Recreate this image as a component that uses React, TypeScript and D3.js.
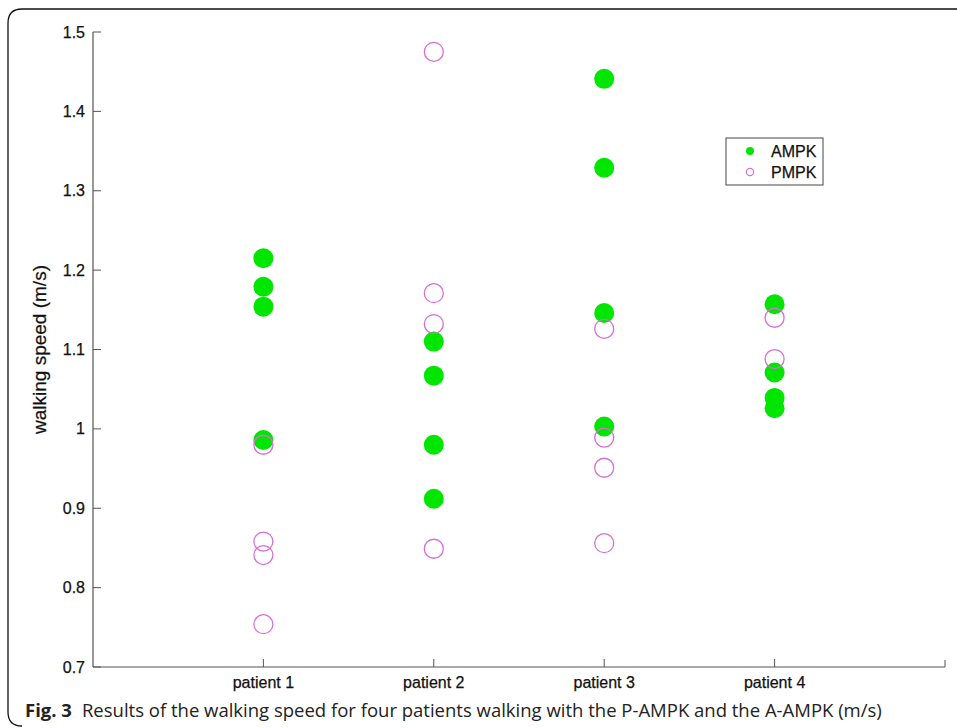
import React from "react";
import * as d3 from "d3";

const categories = ["patient 1", "patient 2", "patient 3", "patient 4"];
const ampk: number[][] = [
  [1.215, 1.179, 1.154, 0.986],
  [1.11, 1.067, 0.98, 0.912],
  [1.441, 1.329, 1.146, 1.003],
  [1.157, 1.071, 1.039, 1.026],
];
const pmpk: number[][] = [
  [0.98, 0.858, 0.841, 0.754],
  [1.475, 1.171, 1.132, 0.849],
  [1.126, 0.989, 0.951, 0.856],
  [1.14, 1.088],
];
const yTicks = [0.7, 0.8, 0.9, 1, 1.1, 1.2, 1.3, 1.4, 1.5];
const legendLabels = ["AMPK", "PMPK"];

const GREEN = "#00e600";
const PINK = "#d670d6";

export default function App() {
  const W = 957, H = 728;
  const left = 93, right = 945, top = 32, bottom = 667;
  const x = d3.scaleLinear().domain([0, 5]).range([left, right]);
  const y = d3.scaleLinear().domain([0.7, 1.5]).range([bottom, top]);
  const font = "'Liberation Sans', Arial, sans-serif";
  const fmt = (v: number) => (v === 1 ? "1" : d3.format(".1f")(v));
  const txt = { fontFamily: font, fill: "#111", stroke: "#111", strokeWidth: 0.25 };
  return (
    <svg width={W} height={H} style={{ position: "absolute", left: 0, top: 0, background: "#fff" }}>
      <rect x={0} y={0} width={W} height={H} fill="#fff" />
      {/* frame */}
      <path
        d={`M ${W + 5} 9 L 22 9 Q 8 9 8 23 L 8 712 Q 8 726 22 726`}
        fill="none"
        stroke="#111"
        strokeWidth={1.3}
      />
      {/* axes */}
      <line x1={left} y1={top} x2={left} y2={bottom} stroke="#555" strokeWidth={1.2} />
      <line x1={left} y1={bottom} x2={right} y2={bottom} stroke="#555" strokeWidth={1.2} />
      <line x1={right} y1={bottom} x2={right} y2={bottom - 7} stroke="#555" strokeWidth={1} />
      {yTicks.map((t) => (
        <g key={t}>
          <line x1={left} x2={left + 8} y1={y(t)} y2={y(t)} stroke="#555" strokeWidth={1} />
          <text x={left - 8} y={y(t)} dy="0.35em" textAnchor="end" fontSize={16} {...txt}>
            {fmt(t)}
          </text>
        </g>
      ))}
      {categories.map((c, i) => (
        <g key={c}>
          <line x1={x(i + 1)} x2={x(i + 1)} y1={bottom} y2={bottom - 8} stroke="#555" strokeWidth={1} />
          <text x={x(i + 1)} y={bottom + 21} textAnchor="middle" fontSize={16} {...txt}>
            {c}
          </text>
        </g>
      ))}
      <text
        transform={`translate(46, ${(top + bottom) / 2}) rotate(-90)`}
        textAnchor="middle"
        fontSize={19}
        {...txt}
      >
        walking speed (m/s)
      </text>
      {/* data */}
      {ampk.map((vals, i) =>
        vals.map((v, j) => (
          <circle key={`a${i}-${j}`} cx={x(i + 1)} cy={y(v)} r={10} fill={GREEN} />
        ))
      )}
      {pmpk.map((vals, i) =>
        vals.map((v, j) => (
          <circle key={`p${i}-${j}`} cx={x(i + 1)} cy={y(v)} r={9.5} fill="none" stroke={PINK} strokeWidth={1.3} />
        ))
      )}
      {/* legend */}
      <rect x={726} y={138} width={97} height={47} fill="#fff" stroke="#444" strokeWidth={1} />
      <circle cx={750} cy={151} r={4} fill={GREEN} />
      <circle cx={750} cy={172} r={3.6} fill="none" stroke={PINK} strokeWidth={1.2} />
      <text x={771} y={151} dy="0.35em" fontSize={16} {...txt}>{legendLabels[0]}</text>
      <text x={771} y={172} dy="0.35em" fontSize={16} {...txt}>{legendLabels[1]}</text>
      {/* caption */}
      <text x={25} y={717} fontFamily="'Open Sans', 'Noto Sans', sans-serif" fontSize={18.5} fill="#222">
        <tspan fontWeight="bold">Fig. 3</tspan>
        <tspan dx={10}>Results of the walking speed for four patients walking with the P-AMPK and the A-AMPK (m/s)</tspan>
      </text>
    </svg>
  );
}
